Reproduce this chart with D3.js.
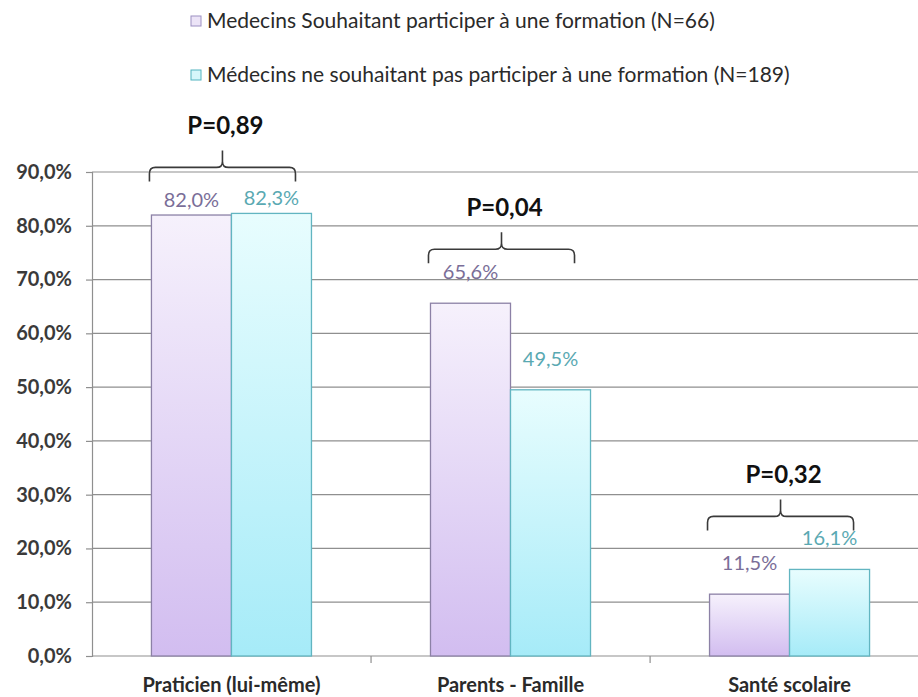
<!DOCTYPE html>
<html>
<head>
<meta charset="utf-8">
<script src="https://cdn.jsdelivr.net/npm/d3@7"></script>
<style>
  body { margin: 0; background: #fff; }
  svg { display: block; font-family: Lato, "Liberation Sans", sans-serif; }
</style>
</head>
<body>
<svg id="chart" width="918" height="697"></svg>
<script>
const categories = ['Praticien (lui-même)', 'Parents - Famille', 'Santé scolaire'];
const seriesNames = [
    'Medecins Souhaitant participer à une formation (N=66)',
    'Médecins ne souhaitant pas participer à une formation (N=189)'
];
const souhaitant = [82.0, 65.6, 11.5];
const neSouhaitantPas = [82.3, 49.5, 16.1];
const pValues = ['P=0,89', 'P=0,04', 'P=0,32'];
const yTicks = [0, 10, 20, 30, 40, 50, 60, 70, 80, 90];

// label / brace lift above the bars, per group
const labelLift = [8, 24, 24];
const braceLift = [32, 40, 39];

const width = 918, height = 697;
const svg = d3.select('#chart');

const y = d3.scaleLinear().domain([0, 90]).range([656, 172]);
const x0 = d3.scaleBand().domain(categories).range([92, 929])
    .paddingInner(0.4265).paddingOuter(0.213);
const x1 = d3.scaleBand().domain([0, 1]).range([0, x0.bandwidth()]);

const fmt = v => d3.format('.1f')(v).replace('.', ',') + '%';

const colors = [
    { top: '#f6f1fc', bottom: '#d2bdf0', stroke: '#8c81a6', text: '#7a6e98', legendFill: '#ece4f7', legendStroke: '#9c90c2' },
    { top: '#e8fdfe', bottom: '#a6ebf8', stroke: '#62b5c1', text: '#5aa9b2', legendFill: '#d6f7fb', legendStroke: '#52b3c0' }
];

const defs = svg.append('defs');
colors.forEach((c, i) => {
    const g = defs.append('linearGradient').attr('id', 'grad' + i)
        .attr('x1', 0).attr('y1', 0).attr('x2', 0).attr('y2', 1);
    g.append('stop').attr('offset', '0%').attr('stop-color', c.top);
    g.append('stop').attr('offset', '100%').attr('stop-color', c.bottom);
});

// Legend
const legend = svg.append('g').attr('class', 'legend');
seriesNames.forEach((name, i) => {
    const ly = 21 + i * 54;
    legend.append('rect')
        .attr('x', 191).attr('y', ly - 5).attr('width', 10).attr('height', 10)
        .attr('fill', colors[i].legendFill).attr('stroke', colors[i].legendStroke);
    legend.append('text')
        .attr('x', 207).attr('y', ly + 7)
        .attr('font-size', 21).attr('fill', '#2a2a2a')
        .text(name);
});

// Gridlines
svg.append('g').attr('class', 'grid')
    .selectAll('line')
    .data(yTicks)
    .enter()
    .append('line')
    .attr('x1', 92).attr('x2', width)
    .attr('y1', d => y(d)).attr('y2', d => y(d))
    .attr('stroke', '#8f8f8f').attr('stroke-width', 1.2);

// Y axis
const yAxis = svg.append('g').attr('transform', 'translate(92,0)')
    .call(d3.axisLeft(y).tickValues(yTicks).tickSize(6).tickPadding(14).tickFormat(fmt));
yAxis.select('.domain').attr('stroke', '#8f8f8f').attr('stroke-width', 1.2);
yAxis.selectAll('.tick line').attr('stroke', '#8f8f8f').attr('stroke-width', 1.2);
yAxis.selectAll('text')
    .attr('font-family', 'Lato, sans-serif')
    .attr('font-size', 20).attr('font-weight', 'bold').attr('fill', '#3a3a3a');

// X axis ticks at band boundaries
const step = x0.step();
const boundaries = categories.map((d, i) => 92 + step * (i + 1));
svg.append('g').selectAll('line')
    .data(boundaries)
    .enter()
    .append('line')
    .attr('x1', d => d).attr('x2', d => d)
    .attr('y1', y(0)).attr('y2', y(0) + 7)
    .attr('stroke', '#8f8f8f').attr('stroke-width', 1.2);

svg.append('g').selectAll('text')
    .data(categories)
    .enter()
    .append('text')
    .attr('x', d => x0(d) + x0.bandwidth() / 2)
    .attr('y', 692)
    .attr('text-anchor', 'middle')
    .attr('font-size', 20).attr('font-weight', 'bold').attr('fill', '#2a2a2a')
    .text(d => d);

// Bars
const rows = categories.map((c, i) => ({ cat: c, i: i, values: [souhaitant[i], neSouhaitantPas[i]] }));

const groups = svg.append('g').selectAll('g')
    .data(rows)
    .enter()
    .append('g')
    .attr('transform', d => `translate(${x0(d.cat)},0)`);

groups.selectAll('rect')
    .data(d => d.values.map((v, s) => ({ v: v, s: s })))
    .enter()
    .append('rect')
    .attr('x', d => x1(d.s))
    .attr('y', d => y(d.v))
    .attr('width', x1.bandwidth())
    .attr('height', d => y(0) - y(d.v))
    .attr('fill', d => `url(#grad${d.s})`)
    .attr('stroke', d => colors[d.s].stroke)
    .attr('stroke-width', 1.3);

groups.each(function (row) {
    d3.select(this).selectAll('text.value')
        .data(row.values.map((v, s) => ({ v: v, s: s })))
        .enter()
        .append('text')
        .classed('value', true)
        .attr('x', d => x1(d.s) + x1.bandwidth() / 2)
        .attr('y', d => y(d.v) - labelLift[row.i])
        .attr('text-anchor', 'middle')
        .attr('font-size', 20)
        .attr('fill', d => colors[d.s].text)
        .text(d => fmt(d.v));
});

// Braces with p-values
const bracePath = (xl, xr, yb) => {
    const yt = yb - 14, tip = yt - 17, xc = (xl + xr) / 2, r = 6;
    return `M${xl},${yb} L${xl},${yt + r} Q${xl},${yt} ${xl + r},${yt} ` +
        `L${xc - r},${yt} Q${xc},${yt} ${xc},${yt - r} L${xc},${tip} ` +
        `M${xc},${yt - r} Q${xc},${yt} ${xc + r},${yt} ` +
        `L${xr - r},${yt} Q${xr},${yt} ${xr},${yt + r} L${xr},${yb}`;
};

groups.each(function (row) {
    const g = d3.select(this);
    const xl = -2, xr = x0.bandwidth() - 16;
    const yb = y(d3.max(row.values)) - braceLift[row.i];
    g.append('path')
        .attr('d', bracePath(xl, xr, yb))
        .attr('fill', 'none').attr('stroke', '#3a3a3a').attr('stroke-width', 1.6);
    g.append('text')
        .attr('x', (xl + xr) / 2 + 3)
        .attr('y', yb - 47)
        .attr('text-anchor', 'middle')
        .attr('font-size', 24).attr('font-weight', 'bold').attr('fill', '#111')
        .text(pValues[row.i]);
});
</script>
</body>
</html>
